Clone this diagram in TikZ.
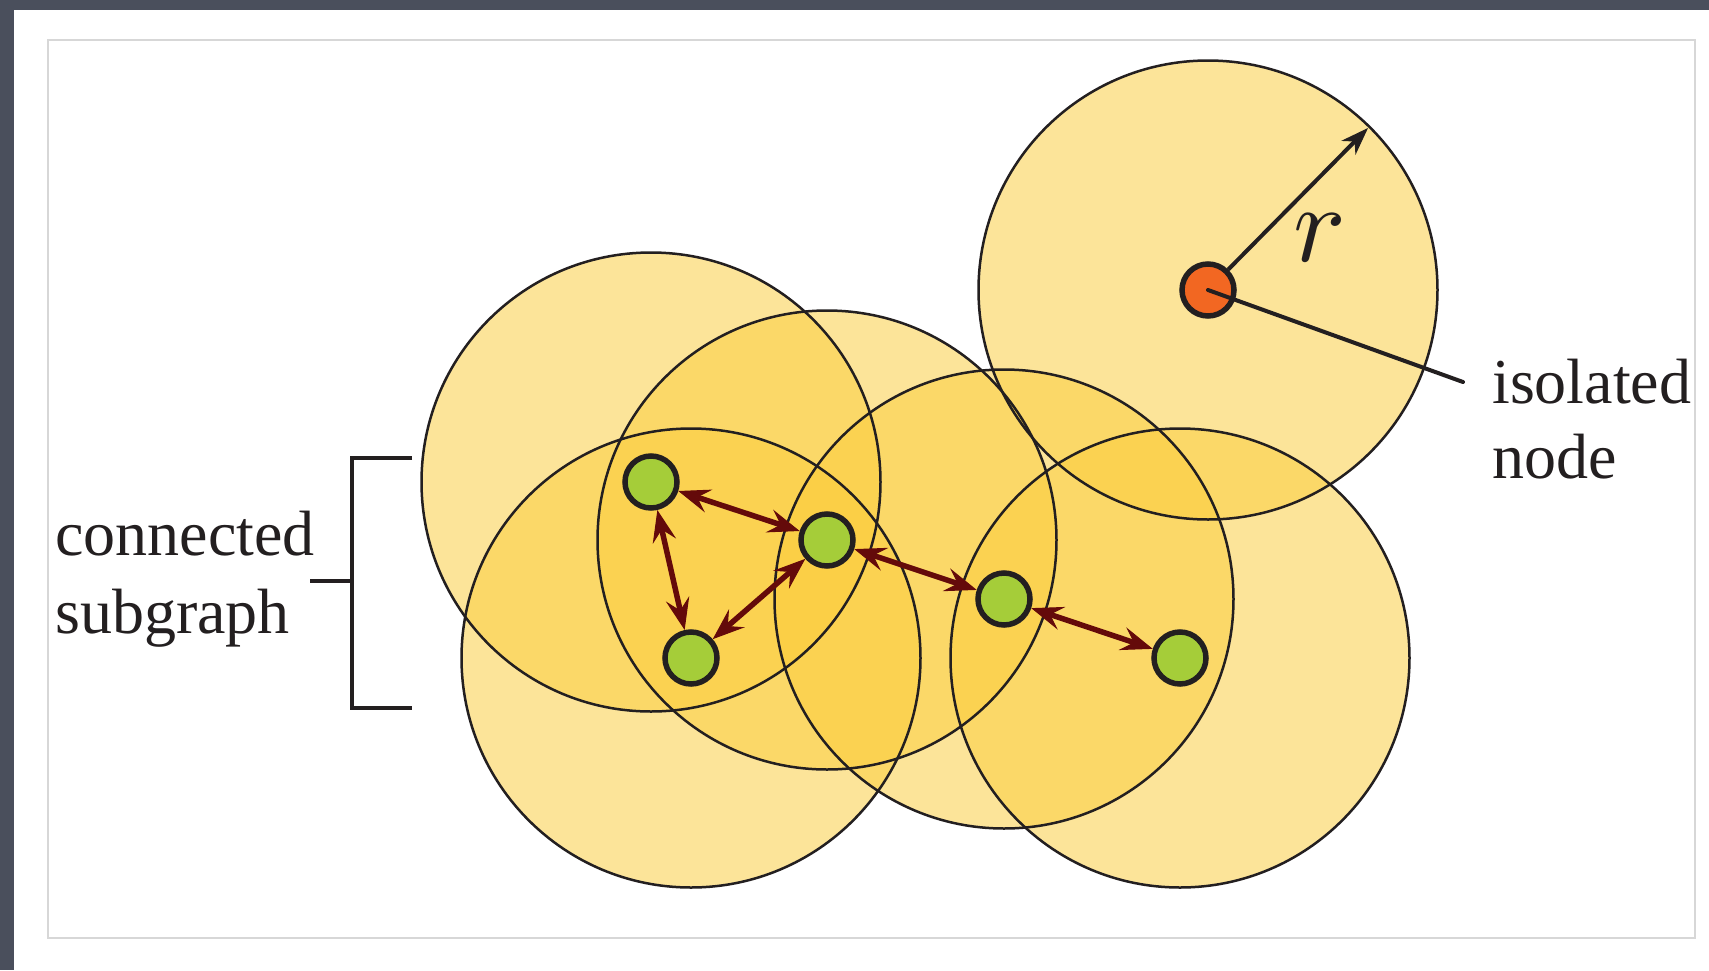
\documentclass[tikz,border=0pt]{standalone}
\usepackage{graphicx}
\usepackage{fontspec}
\setmainfont{Liberation Serif}
\usetikzlibrary{arrows.meta}
\definecolor{bgdark}{RGB}{74,79,92}
\definecolor{framegray}{RGB}{215,215,215}
\definecolor{rangefill}{RGB}{251,205,60}
\definecolor{inkline}{RGB}{35,31,32}
\definecolor{sensorgreen}{RGB}{165,205,57}
\definecolor{isoorange}{RGB}{242,103,34}
\definecolor{linkred}{RGB}{100,10,10}
\begin{document}
\begin{tikzpicture}[x=1pt,y=-1pt,
  rangefillstyle/.style={fill=rangefill, fill opacity=0.52},
  rangeline/.style={draw=inkline, line width=2.5pt},
  sensor/.style={circle, draw=inkline, line width=5.5pt, fill=sensorgreen, minimum size=52pt, inner sep=0pt},
  isolatedsensor/.style={sensor, fill=isoorange},
  linktip/.tip={Stealth[length=32pt,width=24pt,inset=12pt,line width=1pt]},
  link/.style={draw=linkred, line width=5.5pt, linktip-linktip},
  labeltext/.style={font=\fontsize{64pt}{74pt}\selectfont, text=inkline, inner sep=0pt, anchor=base west},
  blackline/.style={draw=inkline, line width=4pt}
]
\useasboundingbox (0,0) rectangle (1709,970);
% screenshot background
\fill[bgdark] (0,0) rectangle (1709,970);
\fill[white] (14,10) rectangle (1709,970);
\draw[framegray, line width=2pt] (48,40) rectangle (1695,938);

% sensor positions
\coordinate (pA) at (651,482);
\coordinate (pB) at (827,540);
\coordinate (pC) at (691,658);
\coordinate (pD) at (1004,599);
\coordinate (pE) at (1180,658);
\coordinate (pF) at (1208,290);

% communication ranges
\foreach \p in {pA,pB,pC,pD,pE,pF}
  \fill[rangefillstyle] (\p) circle (229.5);
\foreach \p in {pA,pB,pC,pD,pE,pF}
  \draw[rangeline] (\p) circle (229.5);

% sensors
\node[sensor] (A) at (pA) {};
\node[sensor] (B) at (pB) {};
\node[sensor] (C) at (pC) {};
\node[sensor] (D) at (pD) {};
\node[sensor] (E) at (pE) {};
\node[isolatedsensor] (F) at (pF) {};

% links
\draw[link] (A) -- (B);
\draw[link] (A) -- (C);
\draw[link] (C) -- (B);
\draw[link] (B) -- (D);
\draw[link] (D) -- (E);

% radius arrow
\coordinate (rtip) at (1368,128);
\draw[blackline, {}-{Stealth[length=28pt,width=20pt,inset=9pt,line width=1pt]}] (F) -- (rtip);
\node[text=inkline, inner sep=0pt] (rlabel) at (1320,238) {\scalebox{11}{$r$}};

% isolated node label
\coordinate (isoend) at (1463,382);
\draw[blackline, line cap=round] (F.center) -- (isoend);
\node[labeltext] (iso1) at (1492,403) {isolated};
\node[labeltext] (iso2) at (1492,478) {node};

% connected subgraph bracket
\coordinate (brtop) at (412,458);
\coordinate (brtopc) at (352,458);
\coordinate (brbot) at (412,708);
\coordinate (brbotc) at (352,708);
\coordinate (brmid) at (352,581);
\coordinate (brtick) at (310,581);
\draw[draw=inkline, line width=4.5pt] (brtop) -- (brtopc) -- (brbotc) -- (brbot);
\draw[draw=inkline, line width=4.5pt] (brmid) -- (brtick);
\node[labeltext] (conn1) at (55,555) {connected};
\node[labeltext] (conn2) at (55,633) {subgraph};
\end{tikzpicture}
\end{document}
